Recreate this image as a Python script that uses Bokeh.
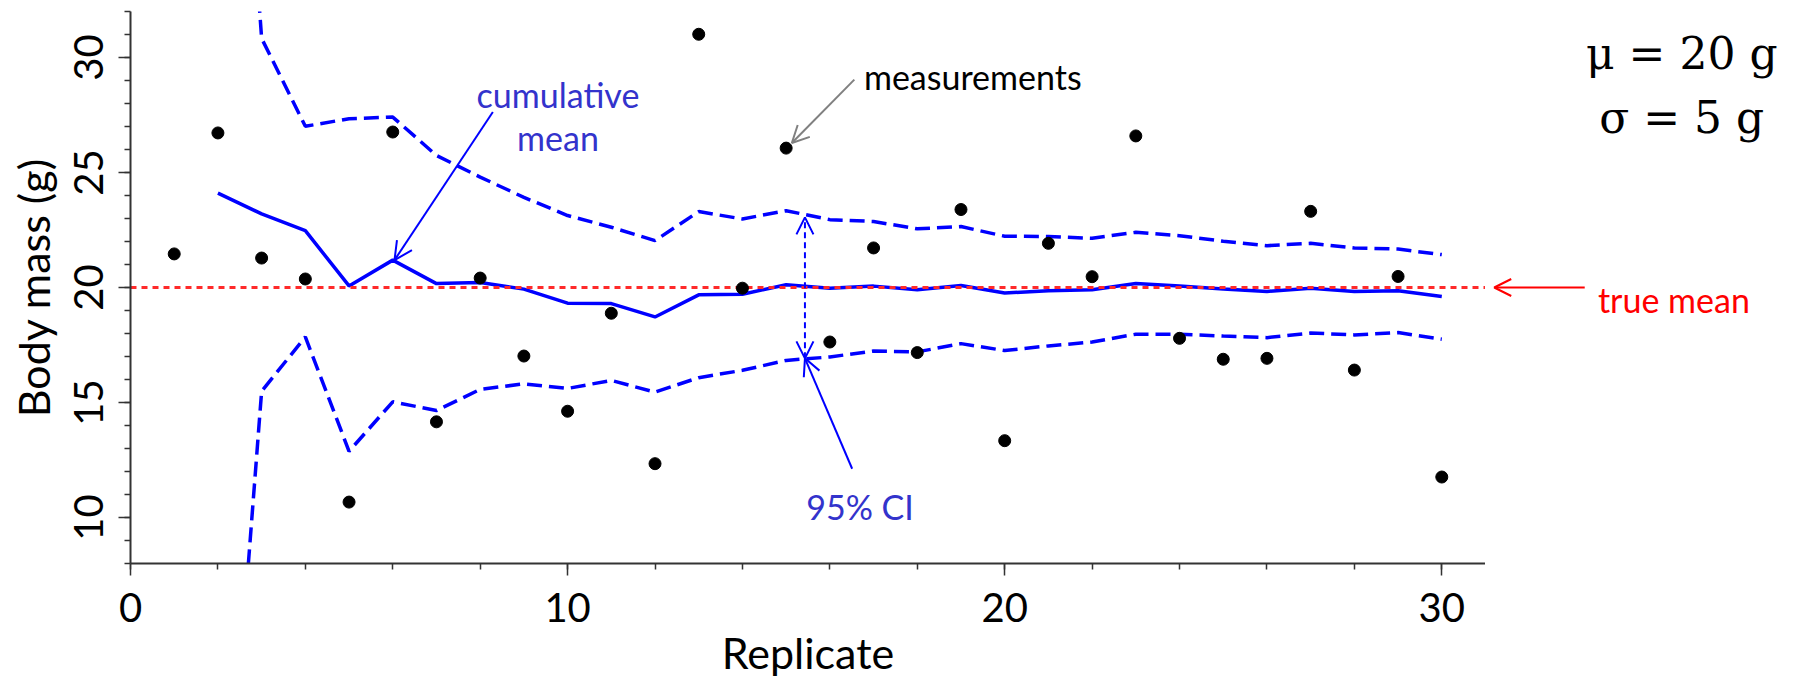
from bokeh.plotting import figure
from bokeh.layouts import row
from bokeh.models import Range1d, Arrow, OpenHead, FixedTicker, Label
from bokeh.embed import file_html
from bokeh.resources import INLINE

# ---------------- data ----------------
replicate = list(range(1, 31))
mass = [21.46, 26.72, 21.28, 20.37, 10.67, 26.76, 14.16, 20.41, 17.02, 14.62,
        18.88, 12.34, 31.01, 19.97, 26.06, 17.63, 21.72, 17.17, 23.39, 13.34,
        21.92, 20.47, 26.59, 17.79, 16.88, 16.92, 23.31, 16.41, 20.48, 11.76]

n_cum = list(range(2, 31))
cum_mean = [24.10, 23.20, 22.47, 20.07, 21.19, 20.17, 20.22, 19.93, 19.32, 19.30,
            18.72, 19.68, 19.71, 20.12, 19.97, 20.06, 19.90, 20.09, 19.76, 19.86,
            19.90, 20.17, 20.06, 19.94, 19.83, 19.97, 19.83, 19.86, 19.61]
ci_upper = [57.4, 30.83, 27.01, 27.34, 27.41, 25.74, 24.80, 23.92, 23.13, 22.62,
            22.04, 23.30, 22.98, 23.34, 22.95, 22.87, 22.55, 22.65, 22.23, 22.22,
            22.14, 22.40, 22.25, 22.01, 21.82, 21.92, 21.72, 21.67, 21.43]
ci_lower = [-9.2, 15.49, 17.85, 12.88, 15.03, 14.65, 15.57, 15.81, 15.61, 15.96,
            15.45, 16.08, 16.40, 16.83, 16.98, 17.24, 17.20, 17.56, 17.26, 17.46,
            17.63, 17.97, 17.97, 17.89, 17.82, 18.02, 17.94, 18.04, 17.75]

TRUE_MEAN = 20
x_major = [0, 10, 20, 30]
x_minor = list(range(0, 32, 2))
y_major = [10, 15, 20, 25, 30]
y_minor = list(range(8, 33))

# ---------------- layout ----------------
X_END = 31
MAIN_W = 1485
SIDE_W = 1796 - MAIN_W
FRAME_LEFT = 130
PX_PER_UNIT = (MAIN_W - FRAME_LEFT) / X_END
BLUE = "#0000ff"
TEXT_BLUE = "#3333cc"
SANS = "Lato"

p = figure(width=MAIN_W, height=680, output_backend="svg", toolbar_location=None,
           x_range=Range1d(0, X_END), y_range=Range1d(8, 32),
           min_border_left=FRAME_LEFT, min_border_right=0, min_border_top=11,
           min_border_bottom=117,
           x_axis_label="Replicate", y_axis_label="Body mass (g)")
p.outline_line_color = None
p.grid.visible = False
p.background_fill_color = "white"
p.border_fill_color = "white"

p.xaxis.ticker = FixedTicker(ticks=x_major, minor_ticks=x_minor)
p.yaxis.ticker = FixedTicker(ticks=y_major, minor_ticks=y_minor)
p.yaxis.major_label_orientation = "vertical"

for ax in (p.xaxis[0], p.yaxis[0]):
    ax.axis_line_color = "#333333"
    ax.axis_line_width = 2
    ax.major_tick_line_color = "#333333"
    ax.major_tick_line_width = 1.5
    ax.minor_tick_line_color = "#333333"
    ax.minor_tick_line_width = 1.5
    ax.major_tick_in = 0
    ax.major_tick_out = 12
    ax.minor_tick_in = 0
    ax.minor_tick_out = 6
    ax.major_label_text_font = SANS
    ax.major_label_text_font_size = "40px"
    ax.major_label_text_color = "black"
    ax.axis_label_text_font = SANS
    ax.axis_label_text_font_size = "43px"
    ax.axis_label_text_font_style = "normal"
    ax.axis_label_text_color = "black"

p.xaxis.major_label_standoff = 17
p.xaxis.axis_label_standoff = 2
p.yaxis.major_label_standoff = 16
p.yaxis.axis_label_standoff = 12

# side panel (annotations right of the axes), same vertical scale
s = figure(width=SIDE_W, height=680, output_backend="svg", toolbar_location=None,
           x_range=Range1d(X_END, X_END + SIDE_W / PX_PER_UNIT),
           y_range=Range1d(8, 32), x_axis_type=None, y_axis_type=None,
           min_border_left=0, min_border_right=0, min_border_top=11,
           min_border_bottom=117)
s.outline_line_color = None
s.grid.visible = False
s.background_fill_color = "white"
s.border_fill_color = "white"

# ---------------- marks ----------------
p.line(n_cum, ci_upper, line_color=BLUE, line_width=3.5, line_dash="15 7")
p.line(n_cum, ci_lower, line_color=BLUE, line_width=3.5, line_dash="15 7")
p.line(n_cum, cum_mean, line_color=BLUE, line_width=3.5)
p.line([0, X_END], [TRUE_MEAN, TRUE_MEAN], line_color="#ff2a2a",
       line_width=3, line_dash="6 5")
p.scatter(replicate, mass, size=12, color="black")

# ---------------- annotations ----------------
def txt(fig, x, y, s_, color, size, font=SANS, align="center"):
    fig.add_layout(Label(x=x, y=y, text=s_, text_color=color, text_font=font,
                         text_font_size=size, text_align=align,
                         text_baseline="alphabetic"))

txt(p, 9.78, 28.39, "cumulative", TEXT_BLUE, "34px")
txt(p, 9.78, 26.54, "mean", TEXT_BLUE, "34px")
txt(p, 19.27, 29.19, "measurements", "black", "34px")
txt(p, 16.69, 10.48, "95% CI", TEXT_BLUE, "34px")
txt(s, 35.31, 19.49, "true mean", "#ff0000", "34px")
txt(s, 35.49, 30.18, "μ = 20 g", "black", "44px", font="DejaVu Serif")
txt(s, 35.49, 27.41, "σ = 5 g", "black", "44px", font="DejaVu Serif")

p.add_layout(Arrow(end=OpenHead(size=18, line_color=BLUE, line_width=2),
                   x_start=8.29, y_start=27.63, x_end=6.04, y_end=21.19,
                   line_color=BLUE, line_width=2))
p.add_layout(Arrow(end=OpenHead(size=17, line_color="#808080", line_width=2),
                   x_start=16.56, y_start=29.04, x_end=15.13, y_end=26.28,
                   line_color="#808080", line_width=2))
s.add_layout(Arrow(end=OpenHead(size=17, line_color="#ff0000", line_width=2),
                   x_start=33.27, y_start=TRUE_MEAN, x_end=31.2, y_end=TRUE_MEAN,
                   line_color="#ff0000", line_width=2))
p.add_layout(Arrow(start=OpenHead(size=17, line_color=BLUE, line_width=2),
                   end=OpenHead(size=17, line_color=BLUE, line_width=2),
                   x_start=15.43, y_start=16.92, x_end=15.43, y_end=23.05,
                   line_color=BLUE, line_width=2, line_dash="6 4"))
p.add_layout(Arrow(end=OpenHead(size=17, line_color=BLUE, line_width=2),
                   x_start=16.51, y_start=12.12, x_end=15.43, y_end=16.92,
                   line_color=BLUE, line_width=2))

layout = row(p, s, spacing=0)
open("out.html", "w").write(file_html(layout, INLINE))
